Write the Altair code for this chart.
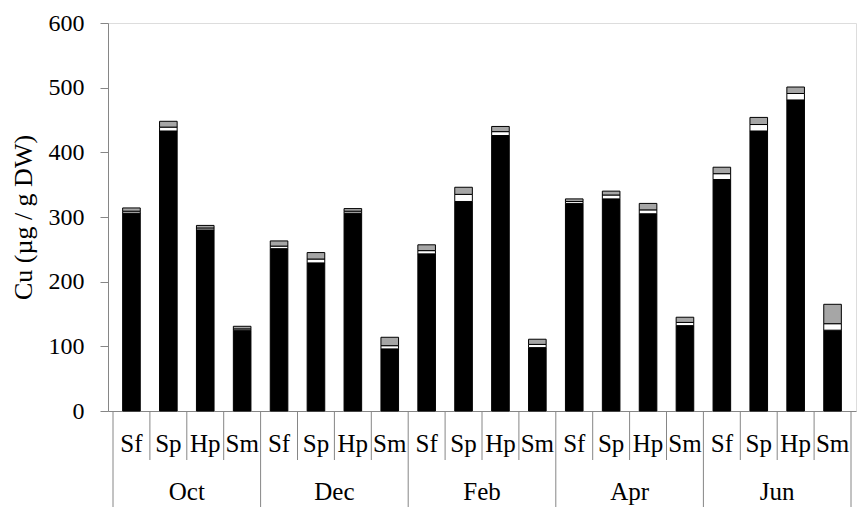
import altair as alt
import pandas as pd

months = ["Oct", "Dec", "Feb", "Apr", "Jun"]
species = ["Sf", "Sp", "Hp", "Sm"]

# stacked segments (bottom -> top) in µg/g DW
black_vals = [306, 433, 280, 125,
              251, 229, 306, 96,
              243, 324, 426, 98,
              321, 328, 305, 132,
              358, 433, 481, 125]
white_vals = [3, 6, 3, 2,
              4, 6, 3, 5,
              5, 11, 6, 5,
              3, 6, 6, 5,
              9, 10, 10, 10]
gray_vals = [5, 9, 4, 4,
             8, 10, 4, 13,
             9, 11, 8, 8,
             4, 6, 10, 8,
             10, 11, 10, 30]

seg_names = ["s1", "s2", "s3"]
seg_colors = ["#000000", "#ffffff", "#a6a6a6"]

rows = []
for i in range(len(black_vals)):
    for o, (name, vals) in enumerate(zip(seg_names, [black_vals, white_vals, gray_vals])):
        rows.append({"pos": i + 0.5, "seg": name, "val": vals[i], "ord": o})
df = pd.DataFrame(rows)

sp_rows = []
for mi, m in enumerate(months):
    for si, s in enumerate(species):
        sp_rows.append({"pos": mi * 4 + si + 0.5, "label": s})
sp_df = pd.DataFrame(sp_rows)
mo_df = pd.DataFrame({"pos": [mi * 4 + 2 for mi in range(len(months))], "label": months})

short_sep = pd.DataFrame({"x": [i for i in range(1, 20) if i % 4 != 0]})
long_sep = pd.DataFrame({"x": [0, 4, 8, 12, 16, 20]})

FONT = "Liberation Serif"
AX = "#868686"
W, H = 748, 388

xscale = alt.Scale(domain=[0, 20], nice=False, zero=False)

bars = alt.Chart(df).mark_bar(size=17.6, stroke="black", strokeWidth=1).encode(
    x=alt.X("pos:Q", scale=xscale,
            axis=alt.Axis(title=None, labels=False, ticks=False, grid=False,
                          domainColor=AX, domainWidth=1)),
    y=alt.Y("val:Q", stack="zero",
            scale=alt.Scale(domain=[0, 600], nice=False),
            axis=alt.Axis(title="Cu (µg / g DW)", values=[0, 100, 200, 300, 400, 500, 600],
                          grid=False, domainColor=AX, tickColor=AX, tickSize=8,
                          labelPadding=16, labelFontSize=24, labelFont=FONT,
                          labelColor="black", titleFont=FONT, titleFontSize=26,
                          titleFontWeight="normal", titleColor="black",
                          titleX=-85, titleY=194, titleAngle=-90,
                          titleAlign="center", titleBaseline="middle")),
    color=alt.Color("seg:N", scale=alt.Scale(domain=seg_names, range=seg_colors), legend=None),
    order=alt.Order("ord:Q"),
)

short_rules = alt.Chart(short_sep).mark_rule(color=AX, strokeWidth=1).encode(
    x=alt.X("x:Q", scale=xscale), y=alt.value(H), y2=alt.value(H + 49))
long_rules = alt.Chart(long_sep).mark_rule(color=AX, strokeWidth=1).encode(
    x=alt.X("x:Q", scale=xscale), y=alt.value(H), y2=alt.value(H + 96))

sp_text = alt.Chart(sp_df).mark_text(font=FONT, fontSize=25, color="black",
                                     baseline="alphabetic", align="center").encode(
    x=alt.X("pos:Q", scale=xscale), y=alt.value(H + 41), text="label:N")
mo_text = alt.Chart(mo_df).mark_text(font=FONT, fontSize=25, color="black",
                                     baseline="alphabetic", align="center").encode(
    x=alt.X("pos:Q", scale=xscale), y=alt.value(H + 89), text="label:N")

chart = alt.layer(bars, short_rules, long_rules, sp_text, mo_text).properties(
    width=W, height=H,
    autosize=alt.AutoSizeParams(type="none"),
    padding={"left": 108, "top": 23, "right": 2, "bottom": 96},
).configure_view(stroke=None).configure(background="white")

chart.save("out.html", embed_options={"renderer": "svg", "actions": False})
